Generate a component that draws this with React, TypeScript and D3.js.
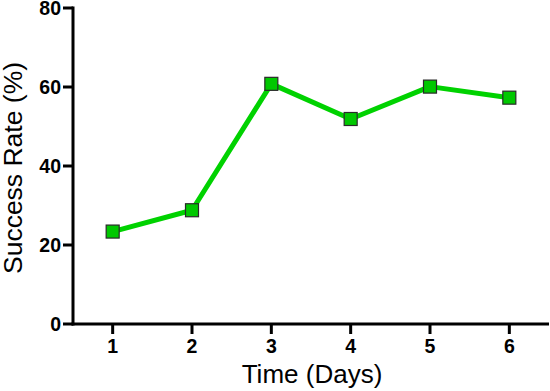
import React from "react";
import * as d3 from "d3";

const days = [1, 2, 3, 4, 5, 6];
const successRate = [23.4, 28.8, 60.8, 51.9, 60.1, 57.3];
const yTicks = [0, 20, 40, 60, 80];
const xLabel = "Time (Days)";
const yLabel = "Success Rate (%)";

const W = 550;
const H = 391;

export default function App() {
  const x = d3.scaleLinear().domain([0.5, 6.5]).range([73, 549]);
  const y = d3.scaleLinear().domain([0, 80]).range([324, 8]);
  const line = d3
    .line<number>()
    .x((_, i) => x(days[i]))
    .y((d) => y(d));
  const font = "'Liberation Sans', Arial, Helvetica, sans-serif";
  const ms = 13;
  return (
    <svg
      width={W}
      height={H}
      style={{ position: "absolute", left: 0, top: 0 }}
      fontFamily={font}
    >
      <rect width={W} height={H} fill="#fff" />
      {/* y axis */}
      <line x1={73} x2={73} y1={y(80) - 1.5} y2={y(0) + 1.5} stroke="#000" strokeWidth={3} />
      {yTicks.map((t) => (
        <g key={t}>
          <line x1={63} x2={73} y1={y(t)} y2={y(t)} stroke="#000" strokeWidth={3} />
          <text
            x={61}
            y={y(t) + 7}
            textAnchor="end"
            fontSize={19.5}
            fontWeight="bold"
          >
            {t}
          </text>
        </g>
      ))}
      {/* x axis */}
      <line x1={71.5} x2={549} y1={y(0)} y2={y(0)} stroke="#000" strokeWidth={3} />
      {days.map((d) => (
        <g key={d}>
          <line x1={x(d)} x2={x(d)} y1={y(0)} y2={y(0) + 10} stroke="#000" strokeWidth={3} />
          <text
            x={x(d)}
            y={353}
            textAnchor="middle"
            fontSize={19.5}
            fontWeight="bold"
          >
            {d}
          </text>
        </g>
      ))}
      <text x={312} y={383} textAnchor="middle" fontSize={26}>
        {xLabel}
      </text>
      <text
        transform={`translate(22, ${168}) rotate(-90)`}
        textAnchor="middle"
        fontSize={26.5}
      >
        {yLabel}
      </text>
      <path d={line(successRate) || ""} fill="none" stroke="#00d200" strokeWidth={5} strokeLinejoin="round" />
      {successRate.map((v, i) => (
        <rect
          key={i}
          x={x(days[i]) - ms / 2}
          y={y(v) - ms / 2}
          width={ms}
          height={ms}
          fill="#00c800"
          stroke="#2a2a2a"
          strokeWidth={1.2}
        />
      ))}
    </svg>
  );
}
